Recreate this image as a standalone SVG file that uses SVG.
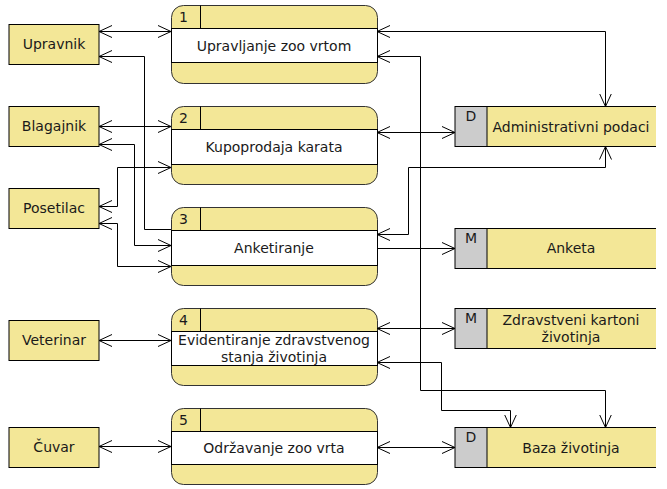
<svg xmlns="http://www.w3.org/2000/svg" width="667" height="489" viewBox="0 0 667 489">
<defs>
<marker id="arr" markerUnits="userSpaceOnUse" markerWidth="14" markerHeight="13" refX="13" refY="6.5" orient="auto-start-reverse" viewBox="0 0 14 13">
<path d="M0,0.5 L13,6.5 L0,12.5" fill="none" stroke="#000" stroke-width="1"/>
</marker>
<style>
text{font-family:"DejaVu Sans","Liberation Sans",sans-serif;font-size:14px;fill:#1a1a1a}
.c{text-anchor:middle}
.ent{fill:#f3e797;stroke:#000;stroke-width:1}
.pbody{fill:#f3e797;stroke:#333;stroke-width:1}
.pmid{fill:#fff;stroke:#000;stroke-width:1}
.ln{stroke:#000;stroke-width:1;fill:none}
.sy{fill:#f3e797}
.sg{fill:#cccccc;stroke:#000;stroke-width:1}
.con{fill:none;stroke:#000;stroke-width:1}
.b{marker-start:url(#arr);marker-end:url(#arr)}
.e{marker-end:url(#arr)}
</style>
</defs>
<rect width="667" height="489" fill="#fff"/>

<g id="upravnik"><rect class="ent" x="9" y="24.5" width="90" height="40"/><text class="c" x="54" y="49">Upravnik</text></g>
<g id="blagajnik"><rect class="ent" x="9" y="106.5" width="90" height="40"/><text class="c" x="54" y="131">Blagajnik</text></g>
<g id="posetilac"><rect class="ent" x="9" y="188.5" width="90" height="40"/><text class="c" x="54" y="213">Posetilac</text></g>
<g id="veterinar"><rect class="ent" x="9" y="320.5" width="90" height="40"/><text class="c" x="54" y="345">Veterinar</text></g>
<g id="cuvar"><rect class="ent" x="9" y="427.5" width="90" height="40"/><text class="c" x="54" y="452">Čuvar</text></g>

<g id="p1">
<rect class="pbody" x="171.5" y="5.5" width="206" height="78" rx="12"/>
<rect class="pmid" x="171.5" y="28.5" width="206" height="34"/>
<line class="ln" x1="200.5" y1="5.5" x2="200.5" y2="28.5"/>
<text x="179" y="22">1</text>
<text class="c" x="274" y="50.5">Upravljanje zoo vrtom</text>
</g>
<g id="p2">
<rect class="pbody" x="171.5" y="106.5" width="206" height="78" rx="12"/>
<rect class="pmid" x="171.5" y="129.5" width="206" height="35"/>
<line class="ln" x1="200.5" y1="106.5" x2="200.5" y2="129.5"/>
<text x="179" y="123">2</text>
<text class="c" x="274" y="151.5">Kupoprodaja karata</text>
</g>
<g id="p3">
<rect class="pbody" x="171.5" y="207.5" width="206" height="78" rx="12"/>
<rect class="pmid" x="171.5" y="230.5" width="206" height="35"/>
<line class="ln" x1="200.5" y1="207.5" x2="200.5" y2="230.5"/>
<text x="179" y="224">3</text>
<text class="c" x="274" y="252.5">Anketiranje</text>
</g>
<g id="p4">
<rect class="pbody" x="171.5" y="308.5" width="206" height="77" rx="12"/>
<rect class="pmid" x="171.5" y="331.5" width="206" height="34"/>
<line class="ln" x1="200.5" y1="308.5" x2="200.5" y2="331.5"/>
<text x="179" y="325">4</text>
<text class="c" x="274" y="344.5">Evidentiranje zdravstvenog</text>
<text class="c" x="274" y="361.5">stanja životinja</text>
</g>
<g id="p5">
<rect class="pbody" x="171.5" y="408.5" width="206" height="76" rx="12"/>
<rect class="pmid" x="171.5" y="431.5" width="206" height="33"/>
<line class="ln" x1="200.5" y1="408.5" x2="200.5" y2="431.5"/>
<text x="179" y="425">5</text>
<text class="c" x="274" y="452.5">Održavanje zoo vrta</text>
</g>

<g id="s-admin">
<rect class="sy" x="455" y="106.5" width="201" height="40"/>
<rect class="sg" x="455" y="106.5" width="32" height="40"/>
<path class="ln" d="M487,106.5 H656 M487,146.5 H656"/>
<text class="c" x="471" y="121">D</text>
<text class="c" x="571" y="131.5">Administrativni podaci</text>
</g>
<g id="s-anketa">
<rect class="sy" x="455" y="228.5" width="201" height="40"/>
<rect class="sg" x="455" y="228.5" width="32" height="40"/>
<path class="ln" d="M487,228.5 H656 M487,268.5 H656"/>
<text class="c" x="471" y="243">M</text>
<text class="c" x="571" y="252.5">Anketa</text>
</g>
<g id="s-zdrav">
<rect class="sy" x="455" y="308.5" width="201" height="40"/>
<rect class="sg" x="455" y="308.5" width="32" height="40"/>
<path class="ln" d="M487,308.5 H656 M487,348.5 H656"/>
<text class="c" x="471" y="323">M</text>
<text class="c" x="571" y="324.5">Zdravstveni kartoni</text>
<text class="c" x="571" y="341.5">životinja</text>
</g>
<g id="s-baza">
<rect class="sy" x="455" y="427.5" width="201" height="40"/>
<rect class="sg" x="455" y="427.5" width="32" height="40"/>
<path class="ln" d="M487,427.5 H656 M487,467.5 H656"/>
<text class="c" x="471" y="442">D</text>
<text class="c" x="571" y="452.5">Baza životinja</text>
</g>

<g id="connectors">
<path class="con b" d="M99,31.5 H171"/>
<path class="con e" d="M171,229.5 H144.5 V56.5 H99"/>
<path class="con b" d="M99,126.5 H171"/>
<path class="con b" d="M99,144.5 H134.5 V245.5 H171"/>
<path class="con b" d="M99,206.5 H117.5 V167.5 H171"/>
<path class="con b" d="M99,223.5 H117.5 V266.5 H171"/>
<path class="con b" d="M99,340.5 H171"/>
<path class="con b" d="M99,446.5 H171"/>
<path class="con b" d="M377,31.5 H605.5 V106.5"/>
<path class="con b" d="M377,56.5 H420.5 V390.5 H605.5 V427.5"/>
<path class="con b" d="M377,132.5 H455"/>
<path class="con b" d="M377,234.5 H408.5 V167.5 H605.5 V146.5"/>
<path class="con e" d="M377,248.5 H455"/>
<path class="con b" d="M377,328.5 H455"/>
<path class="con b" d="M377,362.5 H441.5 V410.5 H510.5 V427.5"/>
<path class="con b" d="M377,447.5 H455"/>
</g>
</svg>
